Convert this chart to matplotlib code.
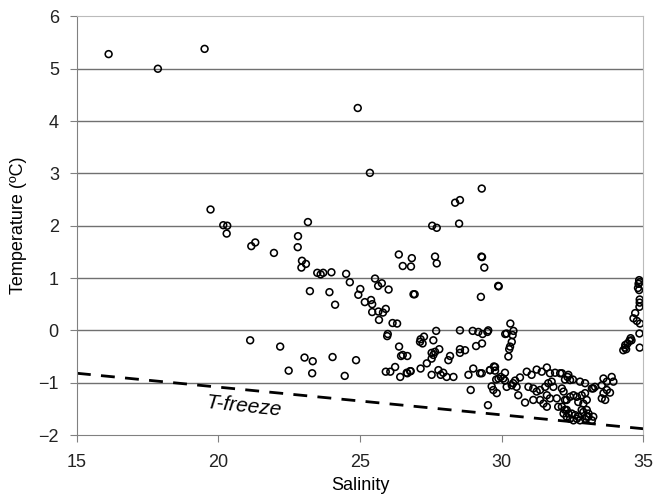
import matplotlib
matplotlib.use("Agg")
import matplotlib.pyplot as plt

plt.rcParams['font.family'] = ['Liberation Sans', 'DejaVu Sans']

# salinity / temperature pairs
salinity = [
    16.12, 17.86, 19.51, 24.92, 25.35,
    19.72, 20.17, 20.31, 20.29, 21.16, 21.30, 21.96,
    22.81, 22.80, 23.16, 22.95, 23.09, 22.93,
    23.49, 23.61, 23.70, 23.99, 23.23, 23.92, 24.12,
    24.51, 24.64, 25.01, 24.94, 25.17, 25.39, 25.43,
    25.53, 25.64, 25.77, 26.01, 25.43, 25.65, 25.81, 25.91,
    25.67, 26.15, 26.31, 25.98, 25.96,
    26.37, 26.51, 26.83, 26.80, 26.89, 26.93,
    27.55, 27.71, 27.65, 27.71, 28.36, 28.53, 28.50, 29.30,
    29.29, 29.31, 29.39, 29.88, 29.90, 29.27,
    21.12, 22.18, 23.04, 23.33, 22.48, 23.31, 24.03, 24.46, 24.86,
    25.91, 26.07, 26.24, 26.38, 26.45, 26.67, 26.42, 26.67, 26.79, 26.51,
    27.69, 28.53, 28.98, 29.18, 29.33, 29.50, 29.53,
    27.14, 27.26, 27.21, 27.12, 27.59,
    27.53, 27.65, 27.59, 27.80, 28.12, 28.18,
    28.53, 28.53, 28.71, 29.10, 29.31,
    27.14, 27.36, 27.53, 26.65, 26.77,
    27.53, 27.77, 27.85, 27.94, 28.06, 28.30,
    28.83, 29.00, 29.24, 29.59, 29.77,
    28.91, 29.52,
    30.31, 30.18, 30.42, 30.39, 30.36, 30.30, 30.27, 30.24, 30.13,
    29.30, 29.59, 29.73, 29.77, 29.81, 29.89, 29.97, 30.12, 30.06, 30.12,
    29.65, 29.71, 29.83,
    30.18, 30.36, 30.41, 30.53, 30.48, 30.65, 30.59, 30.83,
    30.89, 31.06, 31.24, 31.42, 31.60, 31.71, 31.89, 32.07,
    30.95, 31.12, 31.24, 31.36, 31.54, 31.65, 31.77, 31.83,
    31.12, 31.36, 31.48, 31.60, 31.71, 31.60,
    31.95, 32.13, 32.19, 32.24, 32.13, 32.30, 32.36,
    32.33, 32.24, 32.42, 32.52, 32.13, 32.36,
    32.77, 32.95, 33.24, 33.30,
    32.30, 32.42, 32.54, 32.66, 32.83, 32.95, 33.01, 32.89, 32.71,
    32.24, 32.48, 32.60, 32.66, 32.54, 32.42, 32.77, 32.95, 33.01, 33.19,
    32.89, 33.01, 32.00, 32.19, 32.30, 32.71, 33.07, 32.83, 33.07, 33.24,
    33.60, 33.72, 33.89, 33.95, 33.54, 33.60, 33.72, 33.83, 33.54, 33.66, 33.19,
    34.86, 34.88, 34.84, 34.82, 34.86, 34.88, 34.88, 34.87, 34.72, 34.66,
    34.78, 34.89, 34.87, 34.88,
    34.56, 34.52, 34.45, 34.36, 34.30, 34.40, 34.59, 34.37,
]
temperature = [
    5.28, 5.00, 5.38, 4.25, 3.01,
    2.31, 2.01, 2.00, 1.85, 1.61, 1.68, 1.48,
    1.80, 1.59, 2.07, 1.33, 1.27, 1.20,
    1.10, 1.07, 1.10, 1.11, 0.75, 0.73, 0.49,
    1.08, 0.92, 0.79, 0.68, 0.54, 0.58, 0.50,
    0.99, 0.85, 0.90, 0.78, 0.35, 0.36, 0.34, 0.41,
    0.20, 0.14, 0.13, -0.07, -0.11,
    1.45, 1.23, 1.38, 1.22, 0.69, 0.69,
    2.00, 1.96, 1.41, 1.28, 2.44, 2.49, 2.04, 2.71,
    1.41, 1.40, 1.20, 0.85, 0.84, 0.64,
    -0.19, -0.31, -0.52, -0.59, -0.77, -0.82, -0.51, -0.87, -0.57,
    -0.79, -0.79, -0.70, -0.31, -0.49, -0.49, -0.89, -0.82, -0.78, -0.47,
    -0.01, 0.00, -0.01, -0.03, -0.07, -0.03, 0.00,
    -0.17, -0.12, -0.25, -0.22, -0.19,
    -0.43, -0.41, -0.47, -0.36, -0.57, -0.49,
    -0.36, -0.43, -0.38, -0.30, -0.25,
    -0.73, -0.63, -0.54, -0.81, -0.78,
    -0.85, -0.76, -0.85, -0.81, -0.89, -0.89,
    -0.85, -0.73, -0.82, -0.76, -0.70,
    -1.14, -1.43,
    0.13, -0.06, -0.01, -0.09, -0.22, -0.31, -0.36, -0.50, -0.07,
    -0.82, -0.76, -0.69, -0.77, -0.94, -0.92, -0.89, -0.81, -0.92, -0.96,
    -1.07, -1.14, -1.20,
    -1.08, -1.05, -1.01, -1.08, -0.96, -0.90, -1.24, -1.38,
    -0.79, -0.85, -0.75, -0.79, -0.71, -0.82, -0.81, -0.82,
    -1.08, -1.11, -1.17, -1.14, -1.08, -1.01, -0.98, -1.08,
    -1.33, -1.33, -1.40, -1.46, -1.30, -1.24,
    -1.30, -1.11, -1.17, -1.33, -1.46, -1.52, -1.59,
    -0.89, -0.94, -0.95, -0.94, -0.82, -0.85,
    -0.98, -1.01, -1.11, -1.08,
    -1.33, -1.27, -1.24, -1.27, -1.24, -1.20, -1.33, -1.40, -1.37,
    -1.52, -1.59, -1.62, -1.69, -1.72, -1.69, -1.72, -1.69, -1.65, -1.72,
    -1.56, -1.52, -1.46, -1.59, -1.65, -1.65, -1.59, -1.52, -1.65, -1.65,
    -0.92, -0.98, -0.89, -0.98, -1.05, -1.20, -1.14, -1.19, -1.30, -1.33, -1.11,
    0.96, 0.92, 0.89, 0.81, 0.77, 0.59, 0.53, 0.45, 0.33, 0.23,
    0.18, 0.13, -0.06, -0.33,
    -0.15, -0.20, -0.25, -0.33, -0.38, -0.36, -0.19, -0.28,
]

# freezing line end points
freeze_sal = [15, 35]
freeze_temp = [-0.82, -1.88]

x_ticks = [15, 20, 25, 30, 35]
y_ticks = [-2, -1, 0, 1, 2, 3, 4, 5, 6]

fig = plt.figure(figsize=(6.63, 4.98), dpi=100)
ax = fig.add_axes([0.116, 0.1265, 0.854, 0.8405])

for yv in y_ticks[1:-1]:
    ax.axhline(yv, color='#707070', lw=1.0, zorder=0)

ax.plot(freeze_sal, freeze_temp, color='black', lw=2.0, ls=(0, (5, 3.7)), zorder=1)
ax.scatter(salinity, temperature, s=24, facecolors='none', edgecolors='black',
           linewidths=1.15, zorder=2)

ax.text(20.9, -1.45, 'T-freeze', fontsize=15, style='italic', rotation=-6,
        ha='center', va='center', family=['Liberation Sans', 'DejaVu Sans'])

ax.set_xlim(15, 35)
ax.set_ylim(-2, 6)
ax.set_xticks(x_ticks)
ax.set_yticks(y_ticks)
ax.tick_params(axis='both', direction='out', length=5, color='#808080',
               labelsize=13, labelcolor='#222222')
ax.tick_params(axis='x', pad=9)
ax.tick_params(axis='y', pad=8)
for side in ['left', 'bottom']:
    ax.spines[side].set_color('#808080')
for side in ['top', 'right']:
    ax.spines[side].set_color('#bbbbbb')

ax.set_xlabel('Salinity', fontsize=13, labelpad=4)
ax.set_ylabel('Temperature (ºC)', fontsize=13, labelpad=8)

fig.savefig('out.png', dpi=100)
